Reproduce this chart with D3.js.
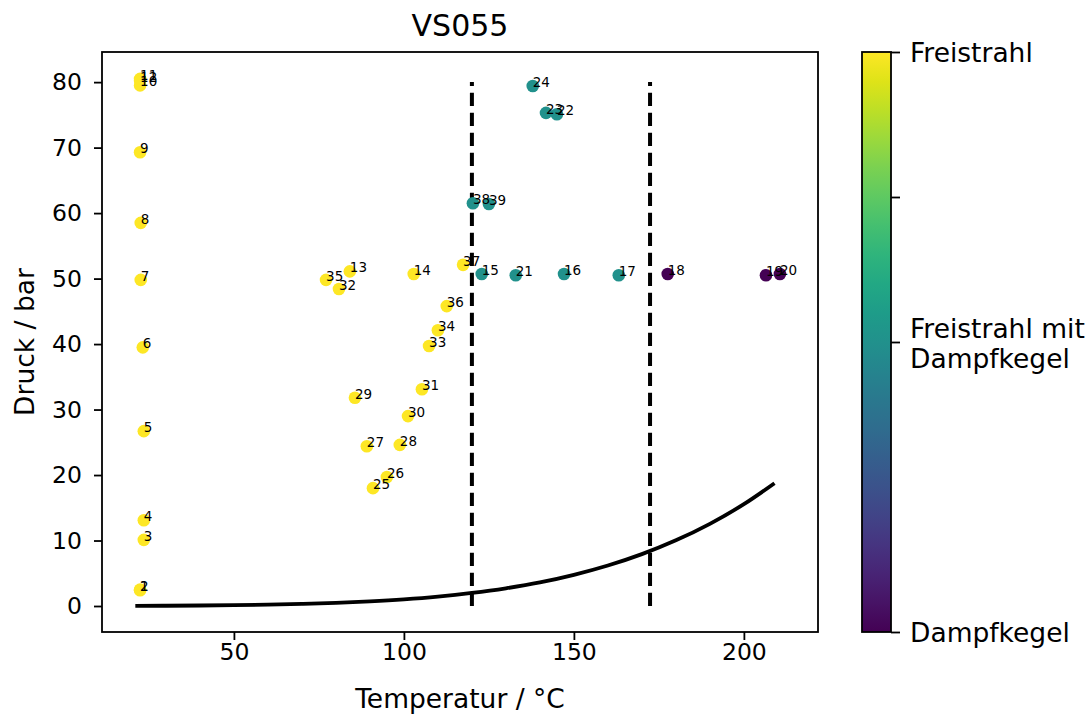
<!DOCTYPE html>
<html lang="de">
<head>
    <meta charset="UTF-8">
    <title>VS055</title>
    <script src="https://d3js.org/d3.v7.min.js"></script>
    <style>
        body { margin: 0; background: #fff; }
        text { font-family: "DejaVu Sans", sans-serif; fill: #000; }
        .axis path, .axis line { stroke: #000; stroke-width: 1.8px; }
        .axis text { font-size: 23.5px; }
        .cbar text { font-size: 26.5px; }
        .pt-label { font-size: 13.5px; }
    </style>
</head>
<body>
<script>
    // Versuchsnummern, Temperatur (°C), Druck (bar), Kategorie (0 = Dampfkegel, 1 = Freistrahl mit Dampfkegel, 2 = Freistrahl)
    const ids   = [1, 2, 3, 4, 5, 6, 7, 8, 9, 10, 11, 12, 13, 14, 15, 16, 17, 18, 19, 20,
                   21, 22, 23, 24, 25, 26, 27, 28, 29, 30, 31, 32, 33, 34, 35, 36, 37, 38, 39];
    const temps = [22.4, 22.4, 23.5, 23.5, 23.5, 23.2, 22.6, 22.6, 22.4, 22.4, 22.4, 22.4, 84.1, 102.9, 122.9, 147.1, 163.2, 177.6, 206.5, 210.6,
                   132.9, 145.0, 141.8, 137.9, 90.9, 95.0, 89.1, 98.8, 85.6, 101.2, 105.3, 80.9, 107.4, 110.0, 77.1, 112.6, 117.4, 120.3, 125.0];
    const press = [2.4, 2.5, 10.1, 13.1, 26.7, 39.5, 49.8, 58.5, 69.3, 79.5, 80.5, 80.2, 51.1, 50.7, 50.7, 50.7, 50.5, 50.7, 50.5, 50.7,
                   50.5, 75.1, 75.3, 79.4, 18.0, 19.7, 24.4, 24.6, 31.8, 29.0, 33.1, 48.4, 39.7, 42.1, 49.8, 45.8, 52.1, 61.5, 61.4];
    const types = [2, 2, 2, 2, 2, 2, 2, 2, 2, 2, 2, 2, 2, 2, 1, 1, 1, 0, 0, 0,
                   1, 1, 1, 1, 2, 2, 2, 2, 2, 2, 2, 2, 2, 2, 2, 2, 2, 1, 1];

    // Dampfdruckkurve
    const curveT = [21, 30, 40, 50, 60, 70, 80, 90, 100, 110, 120, 130, 140, 150, 160, 170, 180, 190, 200, 209];
    const curveP = [0.025, 0.042, 0.074, 0.124, 0.2, 0.31, 0.47, 0.7, 1.01, 1.43, 1.99, 2.7, 3.6, 4.76, 6.18, 7.92, 10.03, 12.55, 15.55, 18.75];

    // Grenzlinien
    const limitT = [120, 172.4];
    const limitP = [0, 80];

    const xTicks = [50, 100, 150, 200];
    const yTicks = [0, 10, 20, 30, 40, 50, 60, 70, 80];
    const cbarTicks = [0, 1, 1.5, 2];
    const cbarLabels = ["Dampfkegel", "Freistrahl mit\nDampfkegel", "", "Freistrahl"];

    const width = 1092, height = 715;
    const plot = { left: 102, right: 818, top: 52, bottom: 632 };
    const cbar = { left: 862, right: 891 };

    const svg = d3.select("body").append("svg")
        .attr("width", width)
        .attr("height", height);

    const x = d3.scaleLinear().domain([11.2, 221.8]).range([plot.left, plot.right]);
    const y = d3.scaleLinear().domain([-3.97, 84.6]).range([plot.bottom, plot.top]);
    const c = d3.scaleLinear().domain([0, 2]).range([plot.bottom, plot.top]);
    const color = v => d3.interpolateViridis(v / 2);

    // Achsen
    svg.append("g").attr("class", "axis")
        .attr("transform", `translate(0,${plot.bottom})`)
        .call(d3.axisBottom(x).tickValues(xTicks).tickSize(8).tickPadding(3).tickSizeOuter(0))
        .call(g => g.select(".domain").remove());
    svg.append("g").attr("class", "axis")
        .attr("transform", `translate(${plot.left},0)`)
        .call(d3.axisLeft(y).tickValues(yTicks).tickSize(8).tickPadding(12).tickSizeOuter(0))
        .call(g => g.select(".domain").remove());

    // Rahmen
    svg.append("rect")
        .attr("x", plot.left).attr("y", plot.top)
        .attr("width", plot.right - plot.left).attr("height", plot.bottom - plot.top)
        .attr("fill", "none").attr("stroke", "#000").attr("stroke-width", 1.8);

    // Dampfdruckkurve
    const line = d3.line().x(d => x(d[0])).y(d => y(d[1])).curve(d3.curveMonotoneX);
    svg.append("path")
        .datum(curveT.map((t, i) => [t, curveP[i]]))
        .attr("d", line)
        .attr("fill", "none").attr("stroke", "#000").attr("stroke-width", 3.8);

    // gestrichelte Grenzlinien
    svg.selectAll(".limit").data(limitT).enter().append("line")
        .attr("x1", d => x(d)).attr("x2", d => x(d))
        .attr("y1", y(limitP[0])).attr("y2", y(limitP[1]))
        .attr("stroke", "#000").attr("stroke-width", 4)
        .attr("stroke-dasharray", "13.3,6.7");

    // Punkte
    const pts = ids.map((id, i) => ({ id: id, t: temps[i], p: press[i], k: types[i] }));
    svg.selectAll(".dot").data(pts).enter().append("circle")
        .attr("cx", d => x(d.t)).attr("cy", d => y(d.p))
        .attr("r", 6.3)
        .attr("fill", d => color(d.k));

    svg.selectAll(".pt-label").data(pts).enter().append("text")
        .attr("class", "pt-label")
        .attr("x", d => x(d.t)).attr("y", d => y(d.p) + 1)
        .style("font-size", "13.5px")
        .text(d => d.id);

    // Titel und Achsenbeschriftungen
    svg.append("text").attr("x", (plot.left + plot.right) / 2).attr("y", 36)
        .attr("text-anchor", "middle").style("font-size", "30px").text("VS055");
    svg.append("text").attr("x", (plot.left + plot.right) / 2).attr("y", 708)
        .attr("text-anchor", "middle").style("font-size", "26.5px").text("Temperatur / °C");
    svg.append("text").attr("transform", `translate(34,${(plot.top + plot.bottom) / 2}) rotate(-90)`)
        .attr("text-anchor", "middle").style("font-size", "26.5px").text("Druck / bar");

    // Farbskala
    const defs = svg.append("defs");
    const grad = defs.append("linearGradient").attr("id", "viridis")
        .attr("x1", 0).attr("y1", 1).attr("x2", 0).attr("y2", 0);
    d3.range(0, 1.001, 0.05).forEach(s => {
        grad.append("stop").attr("offset", s).attr("stop-color", d3.interpolateViridis(s));
    });
    svg.append("rect")
        .attr("x", cbar.left).attr("y", plot.top)
        .attr("width", cbar.right - cbar.left).attr("height", plot.bottom - plot.top)
        .attr("fill", "url(#viridis)").attr("stroke", "#000").attr("stroke-width", 1.8);

    const cb = svg.append("g").attr("class", "axis cbar")
        .attr("transform", `translate(${cbar.right},0)`)
        .call(d3.axisRight(c).tickValues(cbarTicks).tickSize(9).tickPadding(10).tickSizeOuter(0).tickFormat(""))
        .call(g => g.select(".domain").remove());

    cb.selectAll(".tick text").each(function(d, i) {
        const lines = cbarLabels[i].split("\n");
        const t = d3.select(this).attr("dy", null).attr("x", 19);
        lines.forEach((s, j) => {
            t.append("tspan").attr("x", 19)
                .attr("dy", j === 0 ? (lines.length > 1 ? "-5px" : "9.5px") : "30px")
                .text(s);
        });
    });
</script>
</body>
</html>
